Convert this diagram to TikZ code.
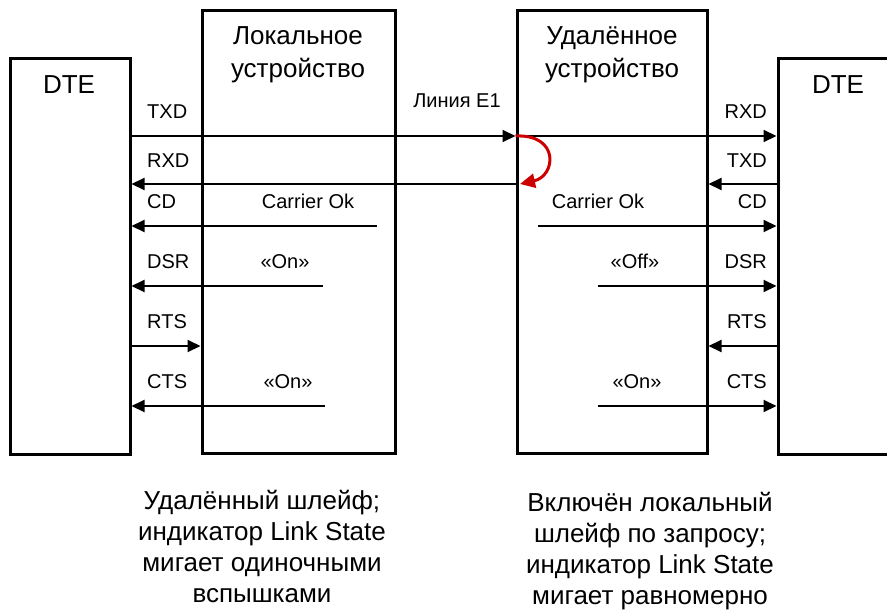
\documentclass[tikz,border=0pt]{standalone}
\usepackage{fontspec}
\setmainfont{Liberation Sans}
\usetikzlibrary{arrows.meta}
\definecolor{loopred}{RGB}{204,0,0}
\begin{document}
\begin{tikzpicture}[x=1pt,y=-1pt,
  box/.style={draw, line width=3pt, inner sep=0pt},
  sig/.style={line width=2pt, -{Triangle[length=13pt,width=12pt]}},
  loopc/.style={draw=loopred, line width=3pt, -{Triangle[length=15pt,width=14pt]}},
  lbl/.style={font=\fontsize{20}{24}\selectfont, inner sep=0pt},
  ttl/.style={font=\fontsize{26}{32}\selectfont, inner sep=0pt, align=center},
  note/.style={font=\fontsize{26}{31}\selectfont, inner sep=0pt, align=center}]
\useasboundingbox (0,0) rectangle (887,613);
\clip (0,0) rectangle (887,613);

% boxes
\node[box, minimum width=120pt, minimum height=396pt] (dteL) at (70,256) {};
\node[box, minimum width=193pt, minimum height=443pt] (loc) at (298.5,231.5) {};
\node[box, minimum width=190pt, minimum height=443pt] (rem) at (612,231.5) {};
\node[box, minimum width=120pt, minimum height=396pt] (dteR) at (838,256) {};

% titles
\node[ttl, anchor=base] (tDteL) at (69,93) {DTE};
\node[ttl, anchor=base] (tDteR) at (838,93) {DTE};
\node[ttl, anchor=base] (tLoc1) at (298,45) {Локальное};
\node[ttl, anchor=base] (tLoc2) at (298,77) {устройство};
\node[ttl, anchor=base] (tRem1) at (612,45) {Удалённое};
\node[ttl, anchor=base] (tRem2) at (612,77) {устройство};
\node[lbl, anchor=base] (line) at (457,107) {Линия E1};

% levels
\coordinate (yTXD) at (0,136);
\coordinate (yRXD) at (0,184);
\coordinate (yCD) at (0,226);
\coordinate (yDSR) at (0,286);
\coordinate (yRTS) at (0,346);
\coordinate (yCTS) at (0,406);

% left labels
\node[lbl, anchor=base west] (lTXD) at (147,118) {TXD};
\node[lbl, anchor=base west] (lRXD) at (147,167) {RXD};
\node[lbl, anchor=base west] (lCD) at (147,208) {CD};
\node[lbl, anchor=base west] (lDSR) at (147,268) {DSR};
\node[lbl, anchor=base west] (lRTS) at (147,328) {RTS};
\node[lbl, anchor=base west] (lCTS) at (147,388) {CTS};
\node[lbl, anchor=base] (lCar) at (308,208) {Carrier Ok};
\node[lbl, anchor=base] (lOn1) at (285,268) {«On»};
\node[lbl, anchor=base] (lOn2) at (288,388) {«On»};

% right labels
\node[lbl, anchor=base east] (rRXD) at (767,118) {RXD};
\node[lbl, anchor=base east] (rTXD) at (767,167) {TXD};
\node[lbl, anchor=base east] (rCD) at (767,208) {CD};
\node[lbl, anchor=base east] (rDSR) at (767,268) {DSR};
\node[lbl, anchor=base east] (rRTS) at (767,328) {RTS};
\node[lbl, anchor=base east] (rCTS) at (767,388) {CTS};
\node[lbl, anchor=base] (rCar) at (598,208) {Carrier Ok};
\node[lbl, anchor=base] (rOff) at (635,268) {«Off»};
\node[lbl, anchor=base] (rOn) at (637,388) {«On»};

% free ends
\coordinate (cdL) at (377,226);
\coordinate (dsrL) at (323,286);
\coordinate (ctsL) at (325,406);
\coordinate (cdR) at (538,226);
\coordinate (dsrR) at (598,286);
\coordinate (ctsR) at (598,406);
\coordinate (loopEnd) at (520,184);

% left connectors
\draw[sig] (dteL.east |- yTXD) -- (rem.west |- yTXD);
\draw[sig] (rem.west |- yRXD) -- (dteL.east |- yRXD);
\draw[sig] (cdL) -- (dteL.east |- cdL);
\draw[sig] (dsrL) -- (dteL.east |- dsrL);
\draw[sig] (dteL.east |- yRTS) -- (loc.west |- yRTS);
\draw[sig] (ctsL) -- (dteL.east |- ctsL);

% right connectors
\draw[sig] (rem.west |- yTXD) -- (dteR.west |- yTXD);
\draw[sig] (dteR.west |- yRXD) -- (rem.east |- yRXD);
\draw[sig] (cdR) -- (dteR.west |- cdR);
\draw[sig] (dsrR) -- (dteR.west |- dsrR);
\draw[sig] (dteR.west |- yRTS) -- (rem.east |- yRTS);
\draw[sig] (ctsR) -- (dteR.west |- ctsR);

% loop
\draw[loopc] (rem.west |- yTXD) .. controls (560,134) and (556,176) .. (loopEnd);

% notes
\node[note, anchor=north] (nL) at (262,490) {Удалённый шлейф;\\индикатор Link State\\мигает одиночными\\вспышками};
\node[note, anchor=north] (nR) at (650,492) {Включён локальный\\шлейф по запросу;\\индикатор Link State\\мигает равномерно};
\end{tikzpicture}
\end{document}
